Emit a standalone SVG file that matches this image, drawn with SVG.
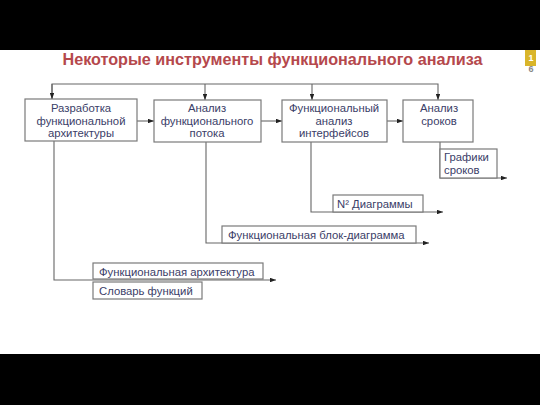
<svg xmlns="http://www.w3.org/2000/svg" width="540" height="405" viewBox="0 0 540 405">
<defs>
<marker id="ah" viewBox="0 0 8 6" refX="8" refY="3" markerWidth="6" markerHeight="4.5" orient="auto" markerUnits="userSpaceOnUse">
<path d="M0,0 L8,3 L0,6 z" fill="#222"/>
</marker>
</defs>
<style>
.box{fill:#fff;stroke:#7a7a7a;stroke-width:1.2}
.t{font-family:"Liberation Sans",Arial,sans-serif;font-size:11.3px;fill:#3b4068}
.c{text-anchor:middle}
.ln{fill:none;stroke:#666;stroke-width:1.1}
</style>
<rect x="0" y="0" width="540" height="405" fill="#fff"/>
<rect x="0" y="0" width="540" height="50" fill="#000"/>
<rect x="0" y="354" width="540" height="51" fill="#000"/>
<text x="272.5" y="65" text-anchor="middle" font-family="'Liberation Sans',Arial,sans-serif" font-size="16.2" font-weight="bold" fill="#b5484c">Некоторые инструменты функционального анализа</text>
<g id="badge">
<rect x="525" y="50" width="11" height="16" fill="#d9b52a"/>
<text x="531" y="61" text-anchor="middle" font-family="'Liberation Sans',Arial,sans-serif" font-size="9" font-weight="bold" fill="#fff">1</text>
<text x="531" y="72" text-anchor="middle" font-family="'Liberation Sans',Arial,sans-serif" font-size="9" font-weight="bold" fill="#888">6</text>
</g>
<g id="connectors">
<polyline class="ln" points="52,99 52,84 438,84 438,100" marker-end="url(#ah)"/>
<line class="ln" x1="205" y1="84" x2="205" y2="100" marker-end="url(#ah)"/>
<line class="ln" x1="312" y1="84" x2="312" y2="100" marker-end="url(#ah)"/>
<line class="ln" x1="52" y1="84" x2="52" y2="99" marker-end="url(#ah)"/>
<line class="ln" x1="137" y1="121" x2="154" y2="121" marker-end="url(#ah)"/>
<line class="ln" x1="261" y1="121" x2="282" y2="121" marker-end="url(#ah)"/>
<line class="ln" x1="387" y1="121" x2="403" y2="121" marker-end="url(#ah)"/>
<polyline class="ln" points="440,142 440,178 507,178" marker-end="url(#ah)"/>
<polyline class="ln" points="311,142 311,212 443,212" marker-end="url(#ah)"/>
<polyline class="ln" points="206,142 206,243 429,243" marker-end="url(#ah)"/>
<polyline class="ln" points="54,141 54,280 276,280" marker-end="url(#ah)"/>
</g>
<g id="n1"><rect class="box" x="25" y="99" width="112" height="42"/>
<text class="t c" x="81" y="112">Разработка</text><text class="t c" x="81" y="124.5">функциональной</text><text class="t c" x="81" y="137">архитектуры</text></g>
<g id="n2"><rect class="box" x="154" y="100" width="107" height="42"/>
<text class="t c" x="207" y="112">Анализ</text><text class="t c" x="207" y="124.5">функционального</text><text class="t c" x="207" y="137">потока</text></g>
<g id="n3"><rect class="box" x="282" y="100" width="105" height="42"/>
<text class="t c" x="334" y="112">Функциональный</text><text class="t c" x="334" y="124.5">анализ</text><text class="t c" x="334" y="137">интерфейсов</text></g>
<g id="n4"><rect class="box" x="403" y="100" width="70" height="42"/>
<text class="t c" x="439" y="112">Анализ</text><text class="t c" x="439" y="125">сроков</text></g>
<g id="n5"><rect class="box" x="440" y="149" width="57" height="29"/>
<text class="t" x="444" y="161">Графики</text><text class="t" x="444" y="173.5">сроков</text></g>
<g id="n6"><rect class="box" x="333" y="195" width="90" height="17"/>
<text class="t" x="337" y="207.5">N² Диаграммы</text></g>
<g id="n7"><rect class="box" x="222" y="226" width="194" height="17"/>
<text class="t" x="228" y="238.5">Функциональная  блок-диаграмма</text></g>
<g id="n8"><rect class="box" x="93" y="263" width="170" height="16"/>
<text class="t" x="99" y="275.5">Функциональная  архитектура</text></g>
<g id="n9"><rect class="box" x="93" y="282" width="109" height="17"/>
<text class="t" x="99" y="294.5">Словарь функций</text></g>
</svg>
